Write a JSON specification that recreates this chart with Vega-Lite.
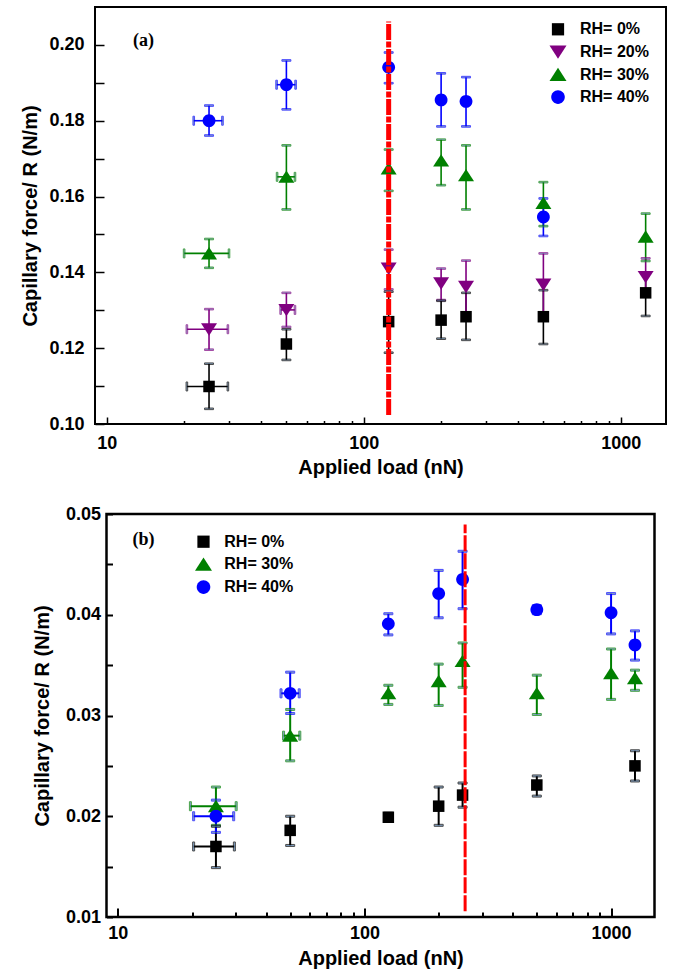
{
  "$schema": "https://vega.github.io/schema/vega-lite/v6.json",
  "background": "white",
  "padding": {"left": 19, "top": 6, "right": 5, "bottom": 5},
  "bounds": "flush",
  "center": true,
  "spacing": 90,
  "config": {
    "font": "Liberation Sans",
    "axis": {"grid": false, "domain": false, "tickColor": "black", "labelColor": "black", "titleColor": "black", "labelFont": "Liberation Sans", "titleFont": "Liberation Sans", "labelFontWeight": "bold", "titleFontWeight": "bold", "labelFontSize": 18, "titleFontSize": 20, "labelFlush": false, "labelOverlap": false},
    "legend": {"padding": 0, "labelFont": "Liberation Sans", "labelFontWeight": "bold", "labelFontSize": 16, "labelColor": "black", "symbolOpacity": 1, "symbolStrokeWidth": 0}
  },
  "resolve": {
    "scale": {"x": "independent", "y": "independent", "color": "independent", "shape": "independent", "stroke": "independent"},
    "legend": {"color": "independent", "shape": "independent", "stroke": "independent"}
  },
  "datasets": {
    "a": [
      {"RH": "RH= 0%", "L": 25, "F": 0.1099, "lo": 0.104, "hi": 0.1159, "xl": 20.5, "xh": 29.6},
      {"RH": "RH= 0%", "L": 50, "F": 0.1211, "lo": 0.1169, "hi": 0.125},
      {"RH": "RH= 0%", "L": 125, "F": 0.127, "lo": 0.1188, "hi": 0.1349},
      {"RH": "RH= 0%", "L": 200, "F": 0.1274, "lo": 0.1225, "hi": 0.1325},
      {"RH": "RH= 0%", "L": 250, "F": 0.1283, "lo": 0.1222, "hi": 0.1346},
      {"RH": "RH= 0%", "L": 500, "F": 0.1283, "lo": 0.1211, "hi": 0.1353},
      {"RH": "RH= 0%", "L": 1250, "F": 0.1346, "lo": 0.1285, "hi": 0.1399},
      {"RH": "RH= 20%", "L": 25, "F": 0.125, "lo": 0.1196, "hi": 0.1303, "xl": 20.5, "xh": 29.6},
      {"RH": "RH= 20%", "L": 50, "F": 0.1301, "lo": 0.1256, "hi": 0.1346, "xl": 47.5, "xh": 54},
      {"RH": "RH= 20%", "L": 125, "F": 0.141, "lo": 0.1355, "hi": 0.146},
      {"RH": "RH= 20%", "L": 200, "F": 0.1371, "lo": 0.1327, "hi": 0.141},
      {"RH": "RH= 20%", "L": 250, "F": 0.1362, "lo": 0.129, "hi": 0.1431},
      {"RH": "RH= 20%", "L": 500, "F": 0.1368, "lo": 0.128, "hi": 0.145},
      {"RH": "RH= 20%", "L": 1250, "F": 0.1388, "lo": 0.1336, "hi": 0.1437},
      {"RH": "RH= 30%", "L": 25, "F": 0.145, "lo": 0.1412, "hi": 0.1488, "xl": 20, "xh": 29.9},
      {"RH": "RH= 30%", "L": 50, "F": 0.1652, "lo": 0.1566, "hi": 0.1735, "xl": 46, "xh": 54},
      {"RH": "RH= 30%", "L": 125, "F": 0.1674, "lo": 0.1615, "hi": 0.1724},
      {"RH": "RH= 30%", "L": 200, "F": 0.1695, "lo": 0.163, "hi": 0.175},
      {"RH": "RH= 30%", "L": 250, "F": 0.1656, "lo": 0.1566, "hi": 0.1735},
      {"RH": "RH= 30%", "L": 500, "F": 0.1583, "lo": 0.1522, "hi": 0.1638},
      {"RH": "RH= 30%", "L": 1250, "F": 0.1494, "lo": 0.143, "hi": 0.1555},
      {"RH": "RH= 40%", "L": 25, "F": 0.18, "lo": 0.1761, "hi": 0.184, "xl": 21.8, "xh": 28.2},
      {"RH": "RH= 40%", "L": 50, "F": 0.1895, "lo": 0.183, "hi": 0.1959, "xl": 45.8, "xh": 54.3},
      {"RH": "RH= 40%", "L": 125, "F": 0.1941, "lo": 0.1899, "hi": 0.198},
      {"RH": "RH= 40%", "L": 200, "F": 0.1855, "lo": 0.1785, "hi": 0.1925},
      {"RH": "RH= 40%", "L": 250, "F": 0.1851, "lo": 0.1785, "hi": 0.1915},
      {"RH": "RH= 40%", "L": 500, "F": 0.1546, "lo": 0.1496, "hi": 0.1595}
    ],
    "b": [
      {"RH": "RH= 0%", "L": 25, "F": 0.017, "lo": 0.0149, "hi": 0.019, "xl": 20.3, "xh": 29.7},
      {"RH": "RH= 0%", "L": 50, "F": 0.0186, "lo": 0.0171, "hi": 0.02},
      {"RH": "RH= 0%", "L": 125, "F": 0.0199, "lo": 0.0195, "hi": 0.0203},
      {"RH": "RH= 0%", "L": 200, "F": 0.021, "lo": 0.0191, "hi": 0.0229},
      {"RH": "RH= 0%", "L": 250, "F": 0.0221, "lo": 0.0209, "hi": 0.0233},
      {"RH": "RH= 0%", "L": 500, "F": 0.0231, "lo": 0.022, "hi": 0.024},
      {"RH": "RH= 0%", "L": 1250, "F": 0.025, "lo": 0.0235, "hi": 0.0265},
      {"RH": "RH= 30%", "L": 25, "F": 0.021, "lo": 0.0191, "hi": 0.0229, "xl": 19.7, "xh": 30.2},
      {"RH": "RH= 30%", "L": 50, "F": 0.028, "lo": 0.0255, "hi": 0.0306, "xl": 47, "xh": 54.7},
      {"RH": "RH= 30%", "L": 125, "F": 0.0322, "lo": 0.0311, "hi": 0.033},
      {"RH": "RH= 30%", "L": 200, "F": 0.0334, "lo": 0.031, "hi": 0.0351},
      {"RH": "RH= 30%", "L": 250, "F": 0.0354, "lo": 0.0328, "hi": 0.0372},
      {"RH": "RH= 30%", "L": 500, "F": 0.0322, "lo": 0.0301, "hi": 0.034},
      {"RH": "RH= 30%", "L": 1000, "F": 0.0342, "lo": 0.0316, "hi": 0.0366},
      {"RH": "RH= 30%", "L": 1250, "F": 0.0337, "lo": 0.0325, "hi": 0.0345},
      {"RH": "RH= 40%", "L": 25, "F": 0.02, "lo": 0.0184, "hi": 0.0216, "xl": 20.3, "xh": 29.5},
      {"RH": "RH= 40%", "L": 50, "F": 0.0322, "lo": 0.0302, "hi": 0.0343, "xl": 45.9, "xh": 54.4},
      {"RH": "RH= 40%", "L": 125, "F": 0.0391, "lo": 0.038, "hi": 0.0401},
      {"RH": "RH= 40%", "L": 200, "F": 0.0421, "lo": 0.0397, "hi": 0.0444},
      {"RH": "RH= 40%", "L": 250, "F": 0.0435, "lo": 0.0406, "hi": 0.0463},
      {"RH": "RH= 40%", "L": 500, "F": 0.0405, "lo": 0.0401, "hi": 0.0409},
      {"RH": "RH= 40%", "L": 1000, "F": 0.0402, "lo": 0.0381, "hi": 0.0421},
      {"RH": "RH= 40%", "L": 1250, "F": 0.037, "lo": 0.0355, "hi": 0.0384}
    ]
  },
  "vconcat": [
    {
      "width": 571,
      "height": 417,
      "view": {"stroke": "black", "strokeWidth": 2},
      "data": {"name": "a"},
      "layer": [
        {
          "mark": {"type": "rule", "strokeWidth": 1.6},
          "encoding": {
            "x": {"field": "L", "type": "quantitative", "scale": {"type": "log", "domain": [9, 1500], "nice": false},
              "axis": {"title": "Applied load (nN)", "values": [10, 20, 30, 40, 50, 60, 70, 80, 90, 100, 200, 300, 400, 500, 600, 700, 800, 900, 1000],
                "labelExpr": "(datum.value == 10 || datum.value == 100 || datum.value == 1000) ? format(datum.value, 'd') : ''",
                "tickSize": {"condition": {"test": "datum.value == 10 || datum.value == 100 || datum.value == 1000", "value": -7}, "value": -3.5},
                "tickWidth": 1.5, "labelPadding": 17, "titlePadding": 2}},
            "y": {"field": "lo", "type": "quantitative", "scale": {"domain": [0.1, 0.21], "nice": false},
              "axis": {"title": "Capillary force/ R (N/m)", "values": [0.1, 0.11, 0.12, 0.13, 0.14, 0.15, 0.16, 0.17, 0.18, 0.19, 0.2],
                "labelExpr": "abs(round(datum.value*100)) % 2 == 0 ? format(datum.value, '.2f') : ''",
                "tickSize": -9, "tickWidth": 1.5, "labelPadding": 20, "titlePadding": 8}},
            "y2": {"field": "hi"},
            "stroke": {"field": "RH", "type": "nominal", "legend": null, "scale": {"domain": ["RH= 40%", "RH= 30%", "RH= 20%", "RH= 0%"], "range": ["#0000ff", "#008000", "#800080", "#000000"]}}
          }
        },
        {
          "mark": {"type": "tick", "orient": "horizontal", "size": 9, "thickness": 1.6},
          "encoding": {
            "x": {"field": "L", "type": "quantitative"},
            "y": {"field": "lo", "type": "quantitative"},
            "stroke": {"field": "RH", "type": "nominal", "legend": null}
          }
        },
        {
          "mark": {"type": "tick", "orient": "horizontal", "size": 9, "thickness": 1.6},
          "encoding": {
            "x": {"field": "L", "type": "quantitative"},
            "y": {"field": "hi", "type": "quantitative"},
            "stroke": {"field": "RH", "type": "nominal", "legend": null}
          }
        },
        {
          "transform": [{"filter": "isValid(datum.xl)"}],
          "mark": {"type": "rule", "strokeWidth": 1.6},
          "encoding": {
            "x": {"field": "xl", "type": "quantitative"},
            "x2": {"field": "xh"},
            "y": {"field": "F", "type": "quantitative"},
            "stroke": {"field": "RH", "type": "nominal", "legend": null}
          }
        },
        {
          "transform": [{"filter": "isValid(datum.xl)"}],
          "mark": {"type": "tick", "orient": "vertical", "size": 9, "thickness": 1.6},
          "encoding": {
            "x": {"field": "xl", "type": "quantitative"},
            "y": {"field": "F", "type": "quantitative"},
            "stroke": {"field": "RH", "type": "nominal", "legend": null}
          }
        },
        {
          "transform": [{"filter": "isValid(datum.xl)"}],
          "mark": {"type": "tick", "orient": "vertical", "size": 9, "thickness": 1.6},
          "encoding": {
            "x": {"field": "xh", "type": "quantitative"},
            "y": {"field": "F", "type": "quantitative"},
            "stroke": {"field": "RH", "type": "nominal", "legend": null}
          }
        },
        {
          "mark": {"type": "point", "filled": true, "opacity": 1, "size": 256},
          "encoding": {
            "x": {"field": "L", "type": "quantitative"},
            "y": {"field": "F", "type": "quantitative"},
            "color": {"field": "RH", "type": "nominal",
              "scale": {"domain": ["RH= 0%", "RH= 20%", "RH= 30%", "RH= 40%"], "range": ["#000000", "#800080", "#008000", "#0000ff"]},
              "legend": {"orient": "none", "legendX": 454.5, "legendY": 13.8, "title": null, "symbolSize": 289, "rowPadding": 5.6, "labelOffset": 13.5}},
            "shape": {"field": "RH", "type": "nominal",
              "scale": {"domain": ["RH= 0%", "RH= 20%", "RH= 30%", "RH= 40%"], "range": ["M-0.72,-0.72L0.72,-0.72L0.72,0.72L-0.72,0.72Z", "M-1,-0.75L1,-0.75L0,0.8Z", "M-1,0.75L1,0.75L0,-0.8Z", "M0.8,0A0.8,0.8,0,1,1,-0.8,0A0.8,0.8,0,1,1,0.8,0Z"]},
              "legend": {"orient": "none", "legendX": 454.5, "legendY": 13.8, "title": null, "symbolSize": 289, "rowPadding": 5.6, "labelOffset": 13.5}}
          }
        },
        {
          "data": {"values": [{}]},
          "mark": {"type": "rule", "color": "#ff0000", "strokeWidth": 5, "strokeDash": [16, 1.5, 6, 1.5]},
          "encoding": {
            "x": {"datum": 125, "type": "quantitative"},
            "y": {"datum": 0.1024, "type": "quantitative"},
            "y2": {"datum": 0.2062}
          }
        },
        {
          "data": {"values": [{"label": "(a)"}]},
          "mark": {"type": "text", "font": "Liberation Serif", "fontSize": 18, "fontWeight": "bold", "align": "center", "baseline": "middle", "color": "black"},
          "encoding": {
            "x": {"datum": 13.9, "type": "quantitative"},
            "y": {"datum": 0.2009, "type": "quantitative"},
            "text": {"field": "label"}
          }
        }
      ]
    },
    {
      "width": 548,
      "height": 403,
      "view": {"stroke": "black", "strokeWidth": 2.5},
      "data": {"name": "b"},
      "layer": [
        {
          "mark": {"type": "rule", "strokeWidth": 2},
          "encoding": {
            "x": {"field": "L", "type": "quantitative", "scale": {"type": "log", "domain": [9, 1500], "nice": false},
              "axis": {"title": "Applied load (nN)", "values": [10, 20, 30, 40, 50, 60, 70, 80, 90, 100, 200, 300, 400, 500, 600, 700, 800, 900, 1000],
                "labelExpr": "(datum.value == 10 || datum.value == 100 || datum.value == 1000) ? format(datum.value, 'd') : ''",
                "tickSize": {"condition": {"test": "datum.value == 10 || datum.value == 100 || datum.value == 1000", "value": -9}, "value": -5},
                "tickWidth": 2, "labelPadding": 16, "titlePadding": 2}},
            "y": {"field": "lo", "type": "quantitative", "scale": {"domain": [0.01, 0.05], "nice": false},
              "axis": {"title": "Capillary force/ R (N/m)", "values": [0.01, 0.015, 0.02, 0.025, 0.03, 0.035, 0.04, 0.045, 0.05],
                "labelExpr": "abs(datum.value*100 - round(datum.value*100)) < 0.001 ? format(datum.value, '.2f') : ''",
                "tickSize": -6, "tickWidth": 2, "labelPadding": 12, "titlePadding": 13}},
            "y2": {"field": "hi"},
            "stroke": {"field": "RH", "type": "nominal", "legend": null, "scale": {"domain": ["RH= 40%", "RH= 30%", "RH= 0%"], "range": ["#0000ff", "#008000", "#000000"]}}
          }
        },
        {
          "mark": {"type": "tick", "orient": "horizontal", "size": 9, "thickness": 2},
          "encoding": {
            "x": {"field": "L", "type": "quantitative"},
            "y": {"field": "lo", "type": "quantitative"},
            "stroke": {"field": "RH", "type": "nominal", "legend": null}
          }
        },
        {
          "mark": {"type": "tick", "orient": "horizontal", "size": 9, "thickness": 2},
          "encoding": {
            "x": {"field": "L", "type": "quantitative"},
            "y": {"field": "hi", "type": "quantitative"},
            "stroke": {"field": "RH", "type": "nominal", "legend": null}
          }
        },
        {
          "transform": [{"filter": "isValid(datum.xl)"}],
          "mark": {"type": "rule", "strokeWidth": 2},
          "encoding": {
            "x": {"field": "xl", "type": "quantitative"},
            "x2": {"field": "xh"},
            "y": {"field": "F", "type": "quantitative"},
            "stroke": {"field": "RH", "type": "nominal", "legend": null}
          }
        },
        {
          "transform": [{"filter": "isValid(datum.xl)"}],
          "mark": {"type": "tick", "orient": "vertical", "size": 9, "thickness": 2},
          "encoding": {
            "x": {"field": "xl", "type": "quantitative"},
            "y": {"field": "F", "type": "quantitative"},
            "stroke": {"field": "RH", "type": "nominal", "legend": null}
          }
        },
        {
          "transform": [{"filter": "isValid(datum.xl)"}],
          "mark": {"type": "tick", "orient": "vertical", "size": 9, "thickness": 2},
          "encoding": {
            "x": {"field": "xh", "type": "quantitative"},
            "y": {"field": "F", "type": "quantitative"},
            "stroke": {"field": "RH", "type": "nominal", "legend": null}
          }
        },
        {
          "mark": {"type": "point", "filled": true, "opacity": 1, "size": 256},
          "encoding": {
            "x": {"field": "L", "type": "quantitative"},
            "y": {"field": "F", "type": "quantitative"},
            "color": {"field": "RH", "type": "nominal",
              "scale": {"domain": ["RH= 0%", "RH= 30%", "RH= 40%"], "range": ["#000000", "#008000", "#0000ff"]},
              "legend": {"orient": "none", "legendX": 88.5, "legendY": 19.2, "title": null, "symbolSize": 289, "rowPadding": 5.7, "labelOffset": 12.3,
                "labelExpr": "datum.label == 'RH= 0%' ? datum.label : '\u00a0' + datum.label"}},
            "shape": {"field": "RH", "type": "nominal",
              "scale": {"domain": ["RH= 0%", "RH= 30%", "RH= 40%"], "range": ["M-0.72,-0.72L0.72,-0.72L0.72,0.72L-0.72,0.72Z", "M-1,0.75L1,0.75L0,-0.8Z", "M0.8,0A0.8,0.8,0,1,1,-0.8,0A0.8,0.8,0,1,1,0.8,0Z"]},
              "legend": {"orient": "none", "legendX": 88.5, "legendY": 19.2, "title": null, "symbolSize": 289, "rowPadding": 5.7, "labelOffset": 12.3,
                "labelExpr": "datum.label == 'RH= 0%' ? datum.label : '\u00a0' + datum.label"}}
          }
        },
        {
          "data": {"values": [{}]},
          "mark": {"type": "rule", "color": "#ff0000", "strokeWidth": 3, "strokeDash": [16, 2]},
          "encoding": {
            "x": {"datum": 256, "type": "quantitative"},
            "y": {"datum": 0.01056, "type": "quantitative"},
            "y2": {"datum": 0.04897}
          }
        },
        {
          "data": {"values": [{"label": "(b)"}]},
          "mark": {"type": "text", "font": "Liberation Serif", "fontSize": 18, "fontWeight": "bold", "align": "center", "baseline": "middle", "color": "black"},
          "encoding": {
            "x": {"datum": 12.7, "type": "quantitative"},
            "y": {"datum": 0.04742, "type": "quantitative"},
            "text": {"field": "label"}
          }
        }
      ]
    }
  ]
}
